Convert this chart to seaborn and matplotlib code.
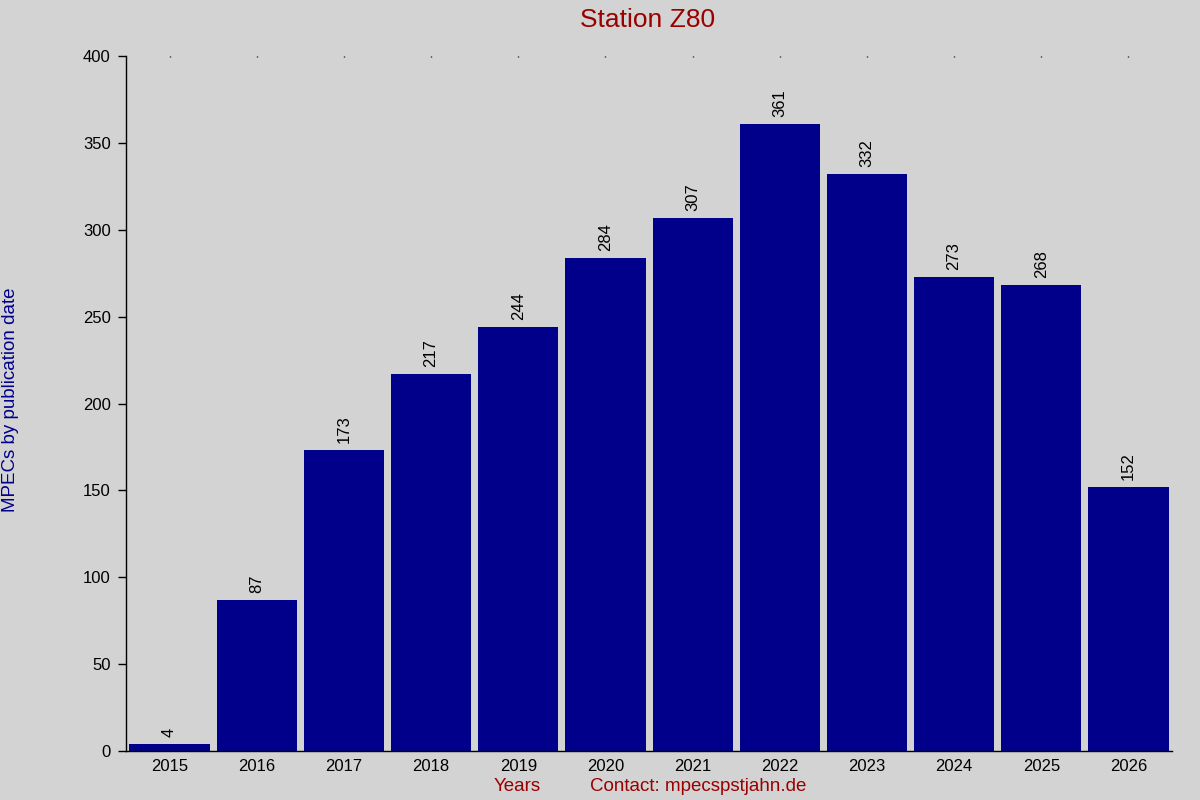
import matplotlib
matplotlib.use("Agg")
import matplotlib.pyplot as plt
import seaborn as sns
import pandas as pd

# data
years = ["2015", "2016", "2017", "2018", "2019", "2020",
         "2021", "2022", "2023", "2024", "2025", "2026"]
mpecs = [4, 87, 173, 217, 244, 284, 307, 361, 332, 273, 268, 152]
yticks = [0, 50, 100, 150, 200, 250, 300, 350, 400]

BG = "#d3d3d3"
BAR = "#00008b"
RED = "#990000"

sns.set_theme(style="ticks")
plt.rcParams["font.family"] = ["Liberation Sans", "DejaVu Sans"]
plt.rcParams["text.color"] = "black"
plt.rcParams["xtick.color"] = "black"
plt.rcParams["ytick.color"] = "black"

df = pd.DataFrame({"year": years, "n": mpecs})

fig = plt.figure(figsize=(12, 8), dpi=100, facecolor=BG)
ax = fig.add_axes([0.105, 0.06125, 0.8717, 0.86875])
ax.set_facecolor(BG)

sns.barplot(data=df, x="year", y="n", color=BAR, saturation=1,
            width=0.92, linewidth=0, edgecolor=BAR, ax=ax)

for i, v in enumerate(mpecs):
    ax.annotate(str(v), (i, v), xytext=(0, 5), textcoords="offset points",
                rotation=90, ha="center", va="bottom", fontsize=12,
                color="black")

ax.set_xlim(-0.5, len(years) - 0.5)
ax.set_ylim(0, 400)
ax.set_yticks(yticks)
ax.tick_params(axis="y", length=6, width=1, labelsize=12, colors="black", pad=5)
ax.tick_params(axis="x", bottom=False, top=True, direction="in", length=1,
               width=1, labelsize=12, colors="black", pad=6)

for s in ["top", "right"]:
    ax.spines[s].set_visible(False)
for s in ["left", "bottom"]:
    ax.spines[s].set_color("black")
    ax.spines[s].set_linewidth(1)

ax.set_xlabel("")
ax.set_ylabel("")

fig.text(0.54, 0.975, "Station Z80", ha="center", va="center",
         fontsize=19, color=RED)
fig.text(0.009, 0.5, "MPECs by publication date", rotation=90,
         ha="center", va="center", fontsize=13.5, color=BAR)
fig.text(0.411, 0.017, "Years", ha="left", va="center", fontsize=13.5, color=RED)
fig.text(0.492, 0.017, "Contact: mpecspstjahn.de", ha="left", va="center",
         fontsize=13.5, color=RED)

fig.savefig("out.png", dpi=100, facecolor=BG)
